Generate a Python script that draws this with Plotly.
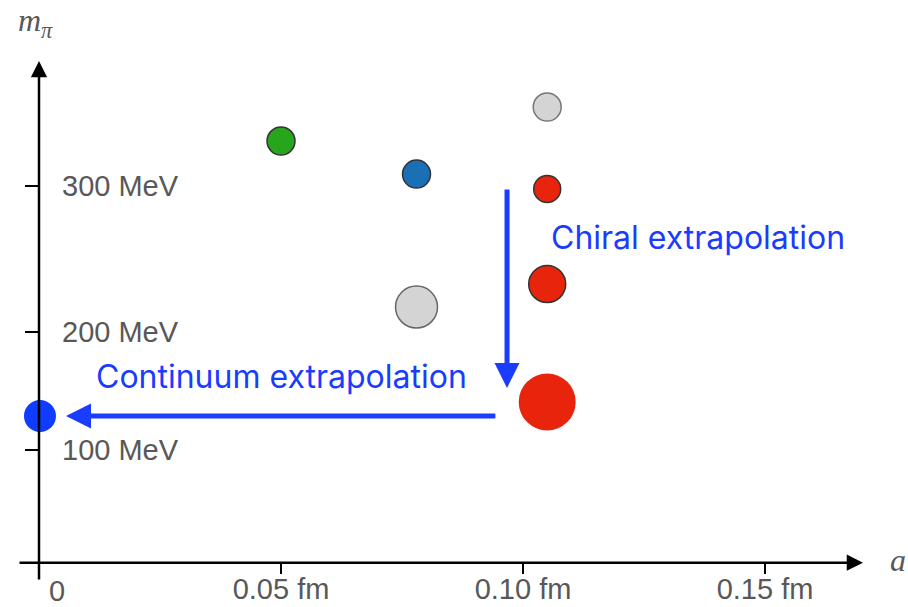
import plotly.graph_objects as go

# ---- data ----
# x: lattice spacing a (fm); y: pion mass on the chart's (schematic) vertical scale
point_a = [0.050, 0.078, 0.105, 0.105, 0.078, 0.105, 0.105]
point_m = [335.8, 309.5, 362.9, 297.6, 203.6, 221.9, 128.0]
point_size = [28, 28, 28, 27, 42, 37, 57]
point_color = ["#26a51d", "#1b6fb5", "#d4d4d4", "#e8250c", "#d4d4d4", "#e8250c", "#e8250c"]
point_line = ["#333333", "#333333", "#777777", "#333333", "#666666", "#333333", "rgba(0,0,0,0)"]

phys_a = [0.0002]
phys_m = [116.8]

x_tick_vals = [0.05, 0.10, 0.15]
x_tick_text = ["0.05 fm", "0.10 fm", "0.15 fm"]
y_tick_vals = [89.75, 184.1, 300.0]
y_tick_text = ["100 MeV", "200 MeV", "300 MeV"]

X_RANGE = [-0.008058, 0.179545]
Y_RANGE = [-35.28, 448.12]
X_AXIS_POS = (607 - 562.7) / 607
Y_AXIS_POS = 39 / 908

GREY = "#585858"
BLUE = "#1a3cff"
tickfont = dict(family="Liberation Sans, Arial, sans-serif", size=29, color=GREY)

fig = go.Figure()
fig.add_trace(go.Scatter(
    x=point_a, y=point_m, mode="markers",
    marker=dict(size=point_size, color=point_color,
                line=dict(color=point_line, width=1.5), opacity=1),
    showlegend=False, hoverinfo="skip"))
fig.add_trace(go.Scatter(
    x=phys_a, y=phys_m, mode="markers",
    marker=dict(size=32, color="#0f3cff", line=dict(width=0)),
    showlegend=False, hoverinfo="skip", cliponaxis=False))

common = dict(showgrid=False, zeroline=False, showline=False, fixedrange=True,
              automargin=False)
fig.update_layout(
    width=908, height=607,
    margin=dict(l=0, r=0, t=0, b=0, pad=0),
    paper_bgcolor="white", plot_bgcolor="white",
    xaxis=dict(range=X_RANGE, domain=[0, 1], anchor="free", position=X_AXIS_POS,
               tickvals=x_tick_vals, ticktext=x_tick_text, ticks="outside",
               ticklen=10, tickwidth=2, tickcolor="black", tickfont=tickfont,
               ticklabelstandoff=-10, **common),
    xaxis2=dict(range=X_RANGE, domain=[0, 1], anchor="free", position=X_AXIS_POS,
                overlaying="x", tickvals=x_tick_vals, ticks="inside", ticklen=10,
                tickwidth=2, tickcolor="black", showticklabels=False, **common),
    yaxis=dict(range=Y_RANGE, domain=[0, 1], anchor="free", position=Y_AXIS_POS,
               tickvals=y_tick_vals, ticktext=y_tick_text, ticks="outside",
               ticklen=14, tickwidth=2, tickcolor="black", tickfont=tickfont,
               ticklabelposition="inside", ticklabelstandoff=19, **common),
    yaxis2=dict(range=Y_RANGE, domain=[0, 1], anchor="free", position=Y_AXIS_POS,
                overlaying="y", tickvals=y_tick_vals, ticks="inside", ticklen=13,
                tickwidth=2, tickcolor="black", showticklabels=False, **common),
)

def arrow(x0, y0, x1, y1, color, width, size):
    fig.add_annotation(x=x1, y=y1, ax=x0, ay=y0, xref="x", yref="y",
                       axref="x", ayref="y", text="", showarrow=True,
                       arrowhead=2, arrowwidth=width, arrowsize=size,
                       arrowcolor=color, standoff=0, startstandoff=0)

# coordinate axes with arrow heads
arrow(-0.00434, 0, 0.17025, 0, "black", 2.5, 1.3)
arrow(0, -14.6, 0, 399.5, "black", 2.5, 1.3)
# extrapolation arrows
arrow(0.0967, 298.4, 0.0967, 139.1, BLUE, 5, 1)
arrow(0.0946, 116.8, 0.00558, 116.8, BLUE, 5, 1)

blue_font = dict(family="Inter, Noto Sans, sans-serif", size=32, color=BLUE)
fig.add_annotation(x=0.1053, y=258.6, xref="x", yref="y", text="Chiral extrapolation",
                   showarrow=False, xanchor="left", yanchor="middle", font=blue_font)
fig.add_annotation(x=0.0113, y=147.9, xref="x", yref="y", text="Continuum extrapolation",
                   showarrow=False, xanchor="left", yanchor="middle", font=blue_font)
fig.add_annotation(x=0.00372, y=-22.5, xref="x", yref="y", text="0",
                   showarrow=False, xanchor="center", yanchor="middle", font=tickfont)
fig.add_annotation(x=0.1775, y=2, xref="x", yref="y", text="<i>a</i>",
                   showarrow=False, xanchor="center", yanchor="middle",
                   font=dict(family="Liberation Serif, serif", size=32, color=GREY))
fig.add_annotation(x=35 / 908, y=1 - 22 / 607, xref="paper", yref="paper",
                   text="<i>m</i><sub><i>π</i></sub>",
                   showarrow=False, xanchor="center", yanchor="middle",
                   font=dict(family="Liberation Serif, serif", size=32, color=GREY))

fig.write_html("out.html")
